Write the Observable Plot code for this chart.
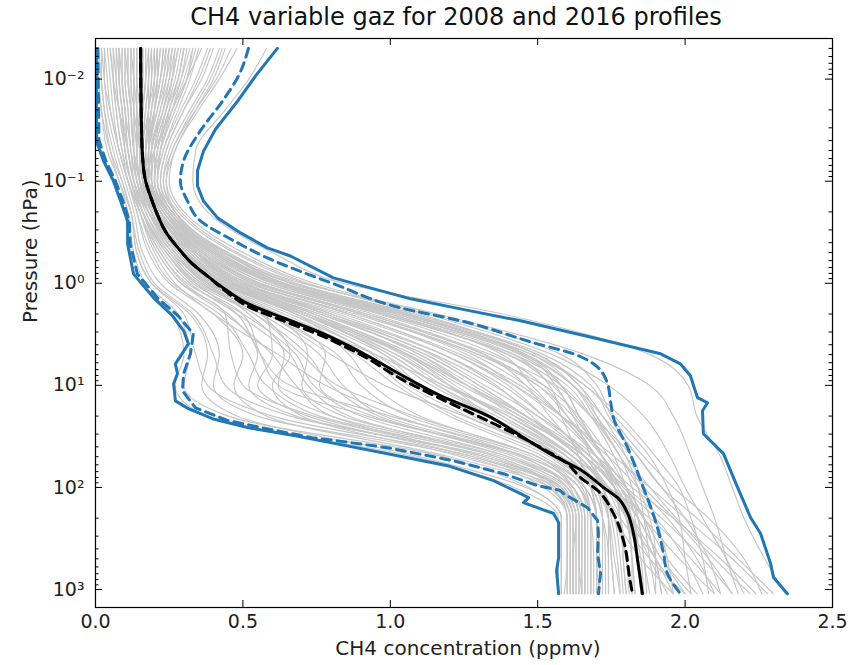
<!DOCTYPE html>
<html>
<head>
<meta charset="utf-8">
<script src="https://cdn.jsdelivr.net/npm/d3@7"></script>
<script src="https://cdn.jsdelivr.net/npm/@observablehq/plot@0.6"></script>
<style>
  body { margin: 0; background: #fff; }
  #chart { width: 855px; height: 665px; }
  .title {
    height: 30px; box-sizing: border-box; padding: 4px 23px 0 80px;
    text-align: center; font-family: "DejaVu Sans", sans-serif; font-size: 24px;
    line-height: 26px; color: #111; white-space: nowrap;
  }
  svg { display: block; }
</style>
</head>
<body>
<div id="chart"><div class="title">CH4 variable gaz for 2008 and 2016 profiles</div></div>
<script>
// Pressure levels (hPa) shared by every individual profile
const pressureLevels = [0.005, 0.01, 0.02, 0.05, 0.1, 0.2, 0.5, 1, 2, 5, 10, 20, 50, 100, 200, 500, 1100];

// Individual CH4 profiles (ppmv), one row per profile, one value per pressure level
const greyProfiles = [
  [0.01,0.01,0.02,0.04,0.08,0.11,0.13,0.17,0.28,0.32,0.30,0.45,1.18,1.47,1.58,1.58,1.58],
  [0.36,0.31,0.26,0.20,0.17,0.19,0.27,0.38,0.62,0.95,1.18,1.42,1.66,1.76,1.84,1.92,2.02],
  [0.12,0.12,0.13,0.15,0.16,0.20,0.34,0.52,0.88,1.30,1.52,1.64,1.74,1.80,1.84,1.86,1.87],
  [0.05,0.06,0.08,0.11,0.13,0.16,0.22,0.30,0.45,0.55,0.52,0.68,1.32,1.57,1.62,1.62,1.62],
  [0.44,0.40,0.34,0.27,0.24,0.27,0.44,0.64,1.02,1.45,1.62,1.70,1.80,1.88,1.97,2.10,2.22],
  [0.20,0.20,0.19,0.18,0.18,0.22,0.31,0.42,0.70,1.05,1.22,1.38,1.60,1.68,1.70,1.70,1.70],
  [0.08,0.08,0.09,0.10,0.12,0.15,0.20,0.27,0.40,0.62,0.78,1.02,1.45,1.60,1.64,1.64,1.64],
  [0.27,0.25,0.22,0.19,0.19,0.24,0.40,0.60,0.98,1.40,1.55,1.63,1.72,1.78,1.86,1.98,2.10],
  [0.16,0.16,0.15,0.14,0.15,0.18,0.26,0.36,0.58,0.80,0.98,1.25,1.55,1.66,1.68,1.68,1.68],
  [0.02,0.03,0.04,0.07,0.10,0.13,0.16,0.22,0.35,0.42,0.40,0.55,1.26,1.52,1.60,1.60,1.59],
  [0.32,0.29,0.25,0.22,0.21,0.26,0.42,0.62,1.00,1.38,1.48,1.58,1.70,1.77,1.82,1.85,1.86],
  [0.14,0.14,0.14,0.14,0.15,0.19,0.30,0.45,0.76,1.12,1.30,1.46,1.64,1.73,1.78,1.80,1.81],
  [0.24,0.22,0.20,0.17,0.16,0.19,0.27,0.38,0.60,0.72,0.70,0.84,1.40,1.62,1.66,1.66,1.66],
  [0.10,0.10,0.11,0.12,0.14,0.18,0.29,0.41,0.66,0.95,1.10,1.30,1.58,1.74,1.88,2.02,2.12],
  [0.40,0.36,0.30,0.24,0.22,0.26,0.45,0.68,1.08,1.52,1.68,1.74,1.84,1.92,2.04,2.18,2.30],
  [0.18,0.18,0.17,0.16,0.17,0.21,0.33,0.47,0.78,1.15,1.35,1.50,1.66,1.72,1.74,1.75,1.76],
  [0.06,0.07,0.08,0.10,0.12,0.16,0.24,0.33,0.50,0.56,0.62,0.92,1.44,1.61,1.64,1.64,1.65],
  [0.30,0.28,0.24,0.20,0.19,0.23,0.37,0.55,0.90,1.26,1.42,1.56,1.70,1.79,1.90,2.00,2.06],
  [0.22,0.21,0.19,0.17,0.17,0.21,0.32,0.44,0.68,0.86,0.94,1.10,1.50,1.66,1.70,1.71,1.71],
  [0.03,0.04,0.05,0.08,0.11,0.14,0.18,0.25,0.40,0.50,0.47,0.58,1.20,1.54,1.61,1.61,1.61],
  [0.48,0.42,0.35,0.27,0.25,0.30,0.50,0.74,1.14,1.58,1.70,1.75,1.86,1.96,2.08,2.20,2.26],
  [0.13,0.13,0.13,0.14,0.15,0.19,0.28,0.39,0.62,0.90,1.08,1.32,1.60,1.70,1.74,1.74,1.74],
  [0.26,0.24,0.21,0.18,0.18,0.22,0.35,0.52,0.86,1.22,1.40,1.52,1.68,1.76,1.82,1.88,1.94],
  [0.09,0.09,0.10,0.11,0.13,0.16,0.23,0.32,0.48,0.66,0.72,0.86,1.36,1.59,1.63,1.63,1.63],
  [0.38,0.34,0.29,0.23,0.21,0.25,0.41,0.63,1.04,1.48,1.62,1.69,1.78,1.82,1.84,1.86,1.88],
  [0.17,0.17,0.16,0.15,0.16,0.20,0.30,0.42,0.70,1.00,1.16,1.36,1.60,1.70,1.76,1.85,1.96],
  [0.00,0.01,0.02,0.05,0.09,0.12,0.14,0.19,0.32,0.38,0.36,0.48,1.10,1.46,1.58,1.58,1.58],
  [0.21,0.20,0.18,0.16,0.16,0.20,0.31,0.45,0.74,1.06,1.20,1.34,1.56,1.68,1.72,1.73,1.73],
  [0.34,0.31,0.27,0.22,0.20,0.24,0.39,0.58,0.94,1.32,1.46,1.54,1.66,1.74,1.80,1.90,1.98],
  [0.11,0.11,0.12,0.13,0.14,0.17,0.25,0.35,0.56,0.76,0.84,0.98,1.46,1.64,1.67,1.67,1.67],
  [0.42,0.38,0.32,0.25,0.23,0.28,0.47,0.71,1.12,1.55,1.74,1.86,1.95,2.00,2.06,2.14,2.20],
  [0.15,0.15,0.15,0.15,0.16,0.20,0.31,0.44,0.72,1.02,1.18,1.40,1.62,1.70,1.72,1.72,1.72],
  [0.07,0.07,0.08,0.10,0.12,0.15,0.21,0.29,0.44,0.60,0.68,0.80,1.30,1.58,1.63,1.62,1.62],
  [0.28,0.26,0.23,0.19,0.18,0.22,0.34,0.50,0.82,1.18,1.36,1.48,1.64,1.74,1.80,1.82,1.83],
  [0.19,0.19,0.18,0.17,0.18,0.22,0.34,0.49,0.80,1.18,1.38,1.52,1.68,1.80,1.92,2.06,2.16],
  [0.04,0.05,0.06,0.08,0.11,0.14,0.19,0.26,0.42,0.52,0.58,0.76,1.36,1.56,1.61,1.61,1.61],
  [0.25,0.23,0.21,0.18,0.17,0.21,0.33,0.48,0.78,1.10,1.26,1.42,1.62,1.70,1.74,1.76,1.78],
  [0.46,0.41,0.34,0.26,0.24,0.29,0.48,0.72,1.10,1.50,1.66,1.78,1.90,1.98,2.02,2.06,2.08],
  [0.13,0.13,0.13,0.13,0.14,0.18,0.27,0.37,0.58,0.82,0.90,1.06,1.50,1.64,1.68,1.69,1.69],
  [0.23,0.22,0.20,0.18,0.18,0.23,0.36,0.54,0.90,1.30,1.50,1.62,1.72,1.80,1.86,1.90,1.92],
  [0.01,0.02,0.03,0.06,0.09,0.12,0.15,0.20,0.33,0.40,0.44,0.66,1.34,1.55,1.60,1.60,1.60],
  [0.33,0.30,0.26,0.21,0.20,0.24,0.38,0.56,0.92,1.34,1.56,1.68,1.82,1.86,1.90,1.94,1.96],
  [0.16,0.16,0.16,0.16,0.17,0.21,0.32,0.46,0.74,1.08,1.26,1.44,1.64,1.72,1.76,1.78,1.79],
  [0.08,0.09,0.10,0.11,0.13,0.17,0.26,0.38,0.62,0.88,1.02,1.20,1.52,1.66,1.70,1.70,1.70],
  [0.30,0.28,0.25,0.21,0.20,0.25,0.44,0.70,1.16,1.66,1.88,1.96,2.02,2.06,2.10,2.14,2.18],
  [0.12,0.12,0.12,0.13,0.15,0.19,0.28,0.40,0.58,0.60,0.55,0.72,1.28,1.58,1.63,1.63,1.63],
  [0.27,0.26,0.24,0.21,0.20,0.24,0.36,0.51,0.80,1.14,1.32,1.50,1.70,1.82,1.96,2.12,2.24],
  [0.06,0.06,0.07,0.09,0.11,0.15,0.22,0.31,0.50,0.68,0.74,0.90,1.40,1.60,1.65,1.65,1.65],
  [0.35,0.32,0.28,0.23,0.21,0.25,0.40,0.60,0.97,1.42,1.60,1.68,1.76,1.80,1.83,1.84,1.85],
  [0.18,0.17,0.16,0.15,0.15,0.19,0.29,0.40,0.64,0.92,1.04,1.22,1.54,1.65,1.68,1.68,1.68],
  [0.10,0.11,0.12,0.13,0.15,0.19,0.30,0.43,0.70,1.02,1.20,1.38,1.62,1.74,1.82,1.90,1.96],
  [0.29,0.27,0.24,0.20,0.19,0.23,0.36,0.53,0.86,1.24,1.44,1.58,1.74,1.84,1.94,2.04,2.10],
  [0.02,0.02,0.03,0.05,0.08,0.12,0.14,0.19,0.30,0.34,0.38,0.60,1.28,1.54,1.60,1.60,1.60],
  [0.21,0.20,0.19,0.17,0.17,0.21,0.32,0.46,0.76,1.12,1.30,1.46,1.66,1.76,1.80,1.82,1.82],
  [0.43,0.39,0.33,0.26,0.23,0.27,0.44,0.66,1.06,1.50,1.64,1.72,1.80,1.84,1.86,1.88,1.90],
  [0.14,0.14,0.14,0.14,0.15,0.19,0.29,0.42,0.68,0.98,1.14,1.34,1.58,1.68,1.70,1.71,1.71],
  [0.24,0.23,0.21,0.18,0.18,0.22,0.34,0.50,0.84,1.22,1.42,1.58,1.76,1.88,2.00,2.16,2.28],
  [0.09,0.09,0.10,0.12,0.13,0.16,0.24,0.34,0.54,0.72,0.80,0.96,1.42,1.62,1.66,1.66,1.66],
  [0.31,0.29,0.26,0.22,0.21,0.26,0.42,0.64,1.04,1.46,1.58,1.64,1.72,1.76,1.78,1.79,1.80],
  [0.16,0.16,0.15,0.15,0.16,0.20,0.30,0.43,0.72,1.06,1.24,1.44,1.64,1.72,1.75,1.77,1.78],
  [0.58,0.52,0.44,0.34,0.33,0.38,0.60,0.84,1.38,1.88,2.01,2.04,2.12,2.16,2.20,2.27,2.34],
  [0.00,0.00,0.00,0.02,0.06,0.10,0.112,0.15,0.26,0.30,0.27,0.37,1.08,1.42,1.57,1.57,1.57],
  [0.20,0.19,0.18,0.17,0.18,0.23,0.38,0.58,0.96,1.36,1.52,1.60,1.70,1.76,1.80,1.82,1.83],
  [0.26,0.25,0.23,0.20,0.20,0.25,0.41,0.62,1.02,1.44,1.58,1.64,1.72,1.78,1.84,1.92,2.00],
  [0.15,0.15,0.15,0.16,0.18,0.23,0.37,0.56,0.92,1.32,1.50,1.60,1.72,1.80,1.86,1.90,1.92],
  [0.33,0.31,0.27,0.22,0.21,0.26,0.43,0.66,1.06,1.46,1.56,1.62,1.68,1.72,1.74,1.75,1.76],
  [0.12,0.13,0.14,0.15,0.17,0.22,0.36,0.55,0.90,1.28,1.46,1.58,1.70,1.76,1.78,1.79,1.80],
  [0.39,0.35,0.30,0.24,0.22,0.27,0.44,0.67,1.08,1.50,1.64,1.70,1.78,1.86,1.96,2.08,2.16],
  [0.22,0.21,0.20,0.19,0.19,0.24,0.39,0.60,0.98,1.40,1.58,1.68,1.78,1.84,1.88,1.90,1.90],
  [0.28,0.26,0.23,0.19,0.19,0.24,0.40,0.61,1.00,1.42,1.54,1.58,1.64,1.68,1.70,1.70,1.71],
  [0.18,0.18,0.18,0.18,0.19,0.24,0.40,0.62,1.02,1.46,1.62,1.72,1.84,1.92,2.00,2.08,2.12],
  [0.30,0.28,0.25,0.21,0.20,0.25,0.42,0.64,1.05,1.48,1.66,1.76,1.88,1.94,1.98,2.00,2.02],
  [0.10,0.10,0.11,0.12,0.14,0.18,0.27,0.38,0.52,0.64,0.62,0.80,1.38,1.60,1.64,1.64,1.64],
  [0.05,0.06,0.07,0.09,0.12,0.16,0.24,0.34,0.48,0.56,0.66,1.00,1.48,1.62,1.66,1.66,1.66],
  [0.17,0.17,0.16,0.15,0.16,0.20,0.29,0.40,0.56,0.66,0.60,0.70,1.24,1.56,1.62,1.62,1.62],
  [0.08,0.08,0.09,0.10,0.12,0.16,0.25,0.36,0.54,0.70,0.82,1.08,1.50,1.62,1.65,1.65,1.65],
  [0.23,0.22,0.20,0.18,0.17,0.20,0.28,0.39,0.60,0.78,0.76,0.94,1.46,1.64,1.68,1.68,1.68],
  [0.03,0.03,0.05,0.08,0.11,0.15,0.21,0.29,0.44,0.46,0.50,0.74,1.32,1.58,1.62,1.62,1.62],
  [0.14,0.14,0.15,0.15,0.16,0.21,0.33,0.46,0.70,1.00,1.16,1.34,1.58,1.70,1.76,1.80,1.82],
  [0.19,0.18,0.17,0.16,0.17,0.22,0.35,0.50,0.78,1.10,1.28,1.46,1.66,1.78,1.86,1.94,2.04],
  [0.11,0.11,0.12,0.13,0.15,0.20,0.31,0.44,0.68,0.94,1.06,1.26,1.56,1.68,1.72,1.74,1.74],
  [0.25,0.24,0.22,0.19,0.18,0.22,0.34,0.48,0.74,1.04,1.20,1.40,1.62,1.74,1.80,1.84,1.86],
  [0.07,0.08,0.09,0.11,0.13,0.18,0.30,0.44,0.72,1.06,1.26,1.46,1.68,1.78,1.82,1.84,1.85],
  [0.21,0.21,0.20,0.18,0.18,0.22,0.34,0.47,0.72,0.98,1.10,1.28,1.56,1.70,1.78,1.88,2.00]
];

// Upper envelope (maximum over all profiles)
const maxPressure = [0.005, 0.0093, 0.0164, 0.031, 0.051, 0.079, 0.111, 0.156, 0.23, 0.321, 0.45, 0.54, 0.885, 1.42, 1.78, 2.33, 3.42, 4.91, 6.15, 8.05, 13.2, 14.8, 17.7, 29.8, 46.7, 100, 197, 283, 557, 764, 1100];
const maxValues   = [0.617, 0.543, 0.482, 0.407, 0.366, 0.346, 0.346, 0.366, 0.415, 0.492, 0.583, 0.661, 0.807, 1.069, 1.238, 1.442, 1.689, 1.917, 1.984, 2.018, 2.042, 2.076, 2.059, 2.062, 2.130, 2.178, 2.222, 2.256, 2.290, 2.300, 2.347];

// Lower envelope (minimum over all profiles)
const minPressure = [0.005, 0.0405, 0.063, 0.1, 0.156, 0.245, 0.411, 0.809, 1.39, 2.08, 2.92, 3.92, 6.15, 7.7, 9.65, 14.2, 16.9, 21.2, 26, 31.1, 37.2, 46.7, 61.2, 85.7, 115, 126, 141, 180, 221, 486, 652, 1100];
const minValues   = [0.003, 0.003, 0.027, 0.061, 0.085, 0.109, 0.109, 0.129, 0.197, 0.261, 0.299, 0.315, 0.271, 0.278, 0.265, 0.271, 0.315, 0.397, 0.519, 0.678, 0.814, 0.991, 1.194, 1.350, 1.442, 1.469, 1.452, 1.554, 1.571, 1.571, 1.564, 1.571];

// Upper spread bound (dashed)
const upperPressure = [0.005, 0.0093, 0.0164, 0.032, 0.063, 0.1, 0.156, 0.245, 0.368, 0.564, 1.01, 1.74, 2.33, 3.92, 4.91, 6.15, 9.65, 14.2, 20.8, 40.8, 85.7, 247, 444, 697, 1100];
const upperValues   = [0.519, 0.485, 0.431, 0.356, 0.299, 0.288, 0.312, 0.356, 0.458, 0.583, 0.807, 1.035, 1.238, 1.499, 1.621, 1.689, 1.737, 1.747, 1.757, 1.805, 1.849, 1.906, 1.927, 1.940, 1.984];

// Lower spread bound (dashed)
const lowerPressure = [0.005, 0.04, 0.063, 0.1, 0.156, 0.245, 0.411, 0.809, 1.39, 2.08, 3.13, 4.91, 7.7, 11.3, 16.6, 22.2, 26, 32.6, 34.8, 40.8, 54.7, 73.3, 95.9, 107, 115, 158, 211, 283, 444, 697, 1100];
const lowerValues   = [0.008, 0.012, 0.035, 0.068, 0.093, 0.115, 0.118, 0.142, 0.210, 0.280, 0.332, 0.322, 0.299, 0.295, 0.339, 0.451, 0.566, 0.736, 0.814, 0.991, 1.214, 1.384, 1.499, 1.577, 1.588, 1.669, 1.703, 1.706, 1.703, 1.713, 1.706];

// Mean profile, 2016 (solid black)
const mean2016Pressure = [0.005, 0.03, 0.06, 0.1, 0.15, 0.23, 0.32, 0.45, 0.63, 0.85, 1.2, 1.6, 2.2, 3.1, 4.9, 7.7, 12.6, 19.8, 31.1, 48.9, 67, 100, 126, 180, 283, 520, 1100];
const mean2016Values   = [0.153, 0.156, 0.160, 0.170, 0.190, 0.215, 0.240, 0.280, 0.325, 0.380, 0.450, 0.520, 0.640, 0.770, 0.910, 1.030, 1.170, 1.330, 1.442, 1.554, 1.645, 1.723, 1.771, 1.805, 1.825, 1.839, 1.855];

// Mean profile, 2008 (dashed black)
const mean2008Pressure = [0.005, 0.03, 0.06, 0.1, 0.15, 0.23, 0.32, 0.45, 0.63, 0.85, 1.25, 1.7, 2.35, 3.3, 5.2, 8.6, 13.5, 22.2, 39, 58.5, 80, 107, 180, 331, 873, 1100];
const mean2008Values   = [0.153, 0.156, 0.160, 0.170, 0.190, 0.215, 0.240, 0.280, 0.325, 0.380, 0.450, 0.520, 0.640, 0.770, 0.910, 1.035, 1.170, 1.330, 1.499, 1.601, 1.645, 1.703, 1.757, 1.791, 1.815, 1.822];

// Axis ticks and labels
const xTicks = [0, 0.5, 1, 1.5, 2, 2.5];
const xTickLabels = ["0.0", "0.5", "1.0", "1.5", "2.0", "2.5"];
const yTicks = [0.01, 0.1, 1, 10, 100, 1000];
const yTickLabels = ["10\u207B\u00B2", "10\u207B\u00B9", "10\u2070", "10\u00B9", "10\u00B2", "10\u00B3"];
const xLabel = "CH4 concentration (ppmv)";
const yLabel = "Pressure (hPa)";

// Minor log ticks (2..9 within each decade)
const yMinorTicks = [];
for (const decade of [0.001, 0.01, 0.1, 1, 10, 100]) {
  for (let k = 2; k <= 9; k++) {
    const t = +(k * decade).toPrecision(3);
    if (t > 0.0041 && t < 1500) yMinorTicks.push(t);
  }
}

const profileRows = greyProfiles.flatMap((vals, id) =>
  vals.map((v, j) => ({id, p: pressureLevels[j], v})));
const rows = (ps, vs) => ps.map((p, i) => ({p, v: vs[i]}));

const W = 855, H = 635;
const mL = 95, mR = 23, mT = 8, mB = 58;
const frameW = W - mL - mR, frameH = H - mT - mB;
const font = "DejaVu Sans";
const blue = "#2077b4";

const chart = Plot.plot({
  width: W, height: H,
  marginLeft: mL, marginRight: mR, marginTop: mT, marginBottom: mB,
  style: {fontFamily: font, background: "#fff"},
  x: {domain: [0, 2.5]},
  y: {type: "log", domain: [1500, 0.004]},
  marks: [
    Plot.line(profileRows, {x: "v", y: "p", z: "id", stroke: "#c6c6c6", strokeWidth: 1.15, curve: "monotone-y"}),
    Plot.line(rows(maxPressure, maxValues), {x: "v", y: "p", stroke: blue, strokeWidth: 3}),
    Plot.line(rows(minPressure, minValues), {x: "v", y: "p", stroke: blue, strokeWidth: 3}),
    Plot.line(rows(upperPressure, upperValues), {x: "v", y: "p", stroke: blue, strokeWidth: 3, strokeDasharray: "9,6", curve: "monotone-y"}),
    Plot.line(rows(lowerPressure, lowerValues), {x: "v", y: "p", stroke: blue, strokeWidth: 3, strokeDasharray: "9,6"}),
    Plot.line(rows(mean2016Pressure, mean2016Values), {x: "v", y: "p", stroke: "#000", strokeWidth: 3, curve: "monotone-y"}),
    Plot.line(rows(mean2008Pressure, mean2008Values), {x: "v", y: "p", stroke: "#000", strokeWidth: 3, strokeDasharray: "9,6", curve: "monotone-y"}),
    Plot.frame({stroke: "#000", strokeWidth: 1.2}),
    // inward ticks on all four sides
    Plot.tickY(yTicks, {y: d => d, insetRight: frameW - 7, stroke: "#000"}),
    Plot.tickY(yTicks, {y: d => d, insetLeft: frameW - 7, stroke: "#000"}),
    Plot.tickY(yMinorTicks, {y: d => d, insetRight: frameW - 3.5, stroke: "#000"}),
    Plot.tickY(yMinorTicks, {y: d => d, insetLeft: frameW - 3.5, stroke: "#000"}),
    Plot.tickX(xTicks, {x: d => d, insetTop: frameH - 7, stroke: "#000"}),
    Plot.tickX(xTicks, {x: d => d, insetBottom: frameH - 7, stroke: "#000"}),
    Plot.axisX(xTicks, {anchor: "bottom", tickSize: 0, tickPadding: 7, fontSize: 19, label: null,
      tickFormat: d => xTickLabels[xTicks.indexOf(d)], fill: "#222"}),
    Plot.axisY(yTicks, {anchor: "left", tickSize: 0, tickPadding: 11, fontSize: 19, label: null,
      tickFormat: d => yTickLabels[yTicks.indexOf(d)], fill: "#222"}),
    Plot.text([xLabel], {frameAnchor: "bottom", dy: 41, dx: 4, fontSize: 20, fill: "#222", lineAnchor: "middle"}),
    Plot.text([yLabel], {frameAnchor: "left", dx: -65, rotate: -90, fontSize: 20, fill: "#222", lineAnchor: "middle"})
  ]
});

document.getElementById("chart").appendChild(chart);
</script>
</body>
</html>
